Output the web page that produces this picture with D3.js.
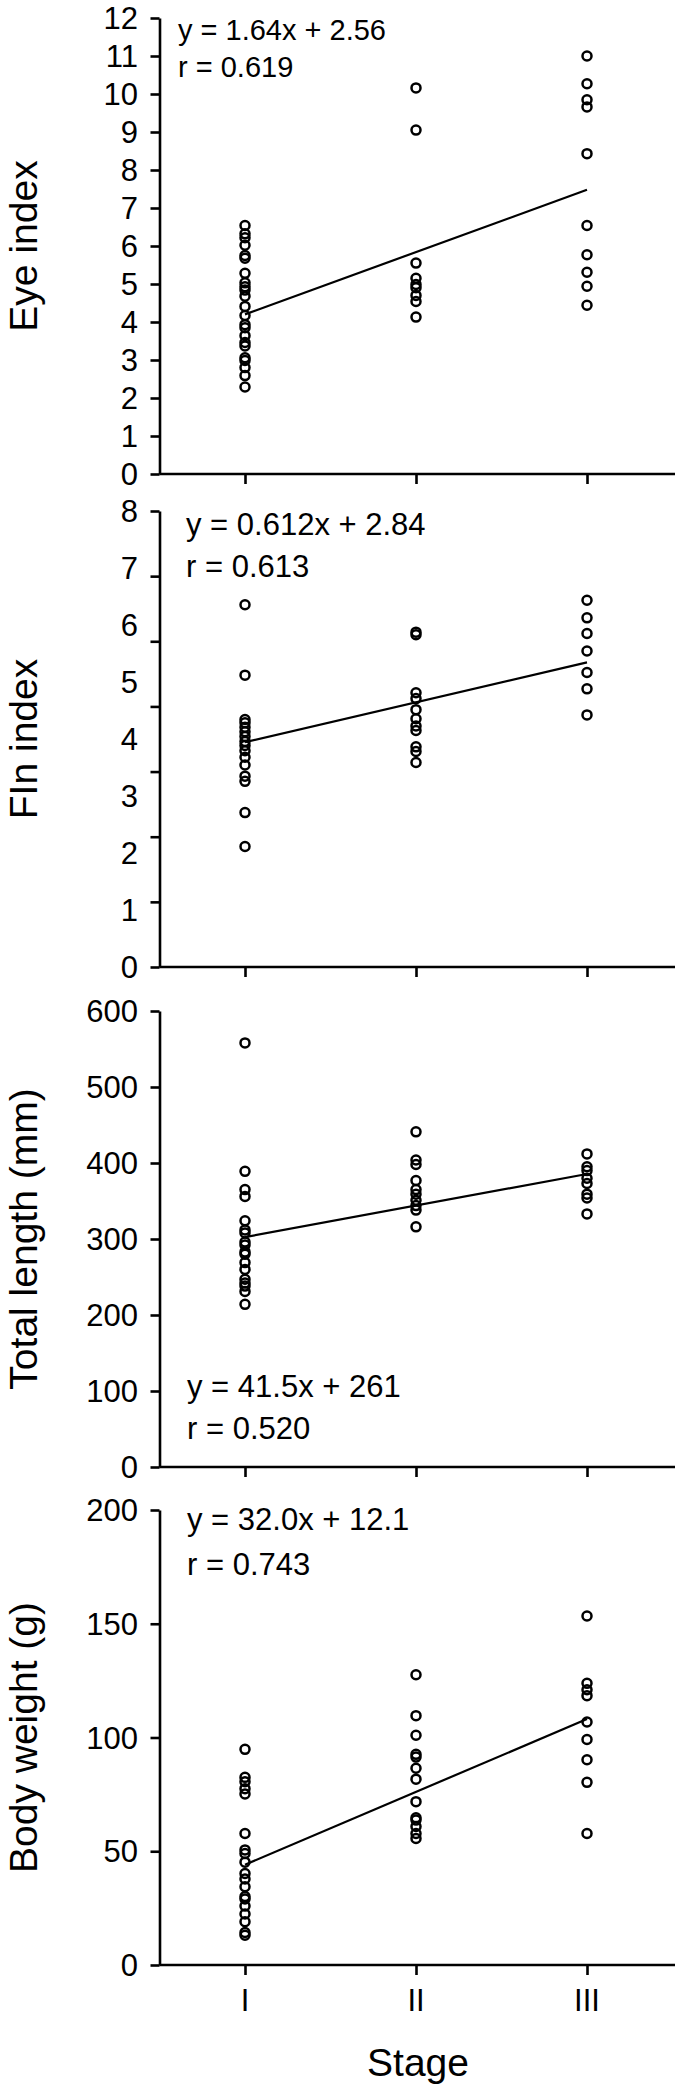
<html lang="en">
<head>
<style>
body { margin: 0; background: #fff; }
text { font-family: "Liberation Sans", Arial, Helvetica, sans-serif; fill: #000; }
</style>
</head>
<body>
</body>
<script type='text/javascript' src='https://d3js.org/d3.v7.min.js'></script>
<script>
var width = 675, height = 2091;

const stages = ['I', 'II', 'III'];

// eye index
const eyeI = [6.54, 6.32, 6.22, 6.02, 5.75, 5.68, 5.28, 5.03, 4.93, 4.84, 4.68, 4.41, 4.17, 3.93, 3.85, 3.64, 3.46, 3.37, 3.06, 2.99, 2.80, 2.59, 2.29];
const eyeII = [10.16, 9.05, 5.55, 5.15, 4.99, 4.90, 4.70, 4.54, 4.13];
const eyeIII = [11.0, 10.27, 9.85, 9.66, 8.43, 6.54, 5.77, 5.31, 4.94, 4.44];
const eyeTicks = [0,1,2,3,4,5,6,7,8,9,10,11,12];

// fin index (labels in the figure run 0-8 but ticks and points are on 0-7)
const finI = [5.56, 4.48, 3.80, 3.75, 3.68, 3.61, 3.54, 3.46, 3.40, 3.32, 3.22, 3.10, 2.93, 2.85, 2.37, 1.85];
const finII = [5.14, 5.10, 4.21, 4.12, 3.95, 3.81, 3.70, 3.63, 3.38, 3.31, 3.14];
const finIII = [5.63, 5.36, 5.12, 4.85, 4.52, 4.27, 3.87];
const finTicks = [0,1,2,3,4,5,6,7];
const finLabels = [0,1,2,3,4,5,6,7,8];

// total length
const lenI = [558, 389, 365, 356, 324, 312, 308, 296, 292, 283, 280, 269, 260, 247, 242, 238, 231, 214];
const lenII = [441, 404, 398, 377, 365, 359, 351, 344, 338, 316];
const lenIII = [412, 395, 390, 380, 373, 359, 354, 333];
const lenTicks = [0,100,200,300,400,500,600];

// body weight
const bwI = [94.8, 82.5, 80.6, 77.5, 75.2, 57.8, 50.6, 49.0, 45.2, 40.2, 37.8, 34.4, 30.1, 29.0, 25.9, 22.4, 19.0, 14.3, 13.1];
const bwII = [127.6, 109.6, 101.0, 92.6, 91.4, 86.5, 81.7, 71.8, 64.7, 63.7, 60.9, 57.8, 55.6];
const bwIII = [153.4, 123.8, 121.0, 118.4, 106.8, 99.1, 90.2, 80.3, 57.8];
const bwTicks = [0,50,100,150,200];

var panels = [
  {title:'Eye index', groups:[eyeI,eyeII,eyeIII], max:12, ticks:eyeTicks, labels:eyeTicks, labelMax:12,
   slope:1.64, icpt:2.56, eq:['y = 1.64x + 2.56','r = 0.619'], top:18, bottom:474, eqY:[40,77], eqX:178, eqSize:29},
  {title:'FIn index', groups:[finI,finII,finIII], max:7, ticks:finTicks, labels:finLabels, labelMax:8,
   slope:0.612, icpt:2.84, eq:['y = 0.612x + 2.84','r = 0.613'], top:511, bottom:967, eqY:[535,577], eqX:186, eqSize:31},
  {title:'Total length (mm)', groups:[lenI,lenII,lenIII], max:600, ticks:lenTicks, labels:lenTicks, labelMax:600,
   slope:41.5, icpt:261, eq:['y = 41.5x + 261','r = 0.520'], top:1011, bottom:1467, eqY:[1397,1439], eqX:187, eqSize:31},
  {title:'Body weight (g)', groups:[bwI,bwII,bwIII], max:200, ticks:bwTicks, labels:bwTicks, labelMax:200,
   slope:32.0, icpt:12.1, eq:['y = 32.0x + 12.1','r = 0.743'], top:1510, bottom:1965, eqY:[1530,1575], eqX:187, eqSize:31}
];

var svg = d3.select('body').append('svg').attr('width', width).attr('height', height);

var axisX = 159.5;
var x = d3.scaleLinear().domain([0.5, 3.5]).range([axisX, 672.5]);

panels.forEach(function(p, k) {
  var y = d3.scaleLinear().domain([0, p.max]).range([p.bottom, p.top]);
  var yl = d3.scaleLinear().domain([0, p.labelMax]).range([p.bottom, p.top]);
  var g = svg.append('g');

  // x axis line + ticks
  var xa = g.append('g').attr('transform', 'translate(0,' + p.bottom + ')')
    .call(d3.axisBottom(x).tickValues([1,2,3]).tickSize(10).tickSizeOuter(0).tickFormat(''));
  xa.select('.domain').attr('d', 'M' + axisX + ',0H' + width);

  // y axis ticks (no text)
  g.append('g').attr('transform', 'translate(' + axisX + ',0)')
    .call(d3.axisLeft(y).tickValues(p.ticks).tickSize(9).tickSizeOuter(0).tickFormat(''));
  // y labels
  g.selectAll('.ylab').data(p.labels).join('text')
    .attr('class', 'ylab')
    .attr('x', 138)
    .attr('y', function(d) { return yl(d); })
    .attr('dy', '0.36em')
    .attr('text-anchor', 'end')
    .attr('font-size', 31)
    .text(function(d) { return d; });

  g.selectAll('.domain, .tick line').attr('stroke', '#000').attr('stroke-width', 2.6);

  // regression line
  g.append('line')
    .attr('x1', x(1)).attr('y1', y(p.slope * 1 + p.icpt))
    .attr('x2', x(3)).attr('y2', y(p.slope * 3 + p.icpt))
    .attr('stroke', '#000').attr('stroke-width', 2.2);

  // points
  p.groups.forEach(function(vals, i) {
    g.selectAll('.pt' + i).data(vals).join('circle')
      .attr('class', 'pt' + i)
      .attr('cx', x(i + 1))
      .attr('cy', function(d) { return y(d); })
      .attr('r', 4.5)
      .attr('fill', 'none')
      .attr('stroke', '#000')
      .attr('stroke-width', 2.5);
  });

  // equation
  p.eq.forEach(function(t, j) {
    g.append('text').attr('x', p.eqX).attr('y', p.eqY[j])
      .attr('font-size', p.eqSize).text(t);
  });

  // y title
  g.append('text')
    .attr('transform', 'translate(37,' + ((p.top + p.bottom) / 2) + ') rotate(-90)')
    .attr('text-anchor', 'middle')
    .attr('font-size', 39)
    .text(p.title);
});

// stage labels
svg.selectAll('.xlab').data(stages).join('text')
  .attr('class', 'xlab')
  .attr('x', function(d, i) { return x(i + 1); })
  .attr('y', 2011)
  .attr('text-anchor', 'middle')
  .attr('font-size', 31)
  .text(function(d) { return d; });

svg.append('text')
  .attr('x', 418).attr('y', 2076)
  .attr('text-anchor', 'middle')
  .attr('font-size', 39)
  .text('Stage');
</script>
</html>
